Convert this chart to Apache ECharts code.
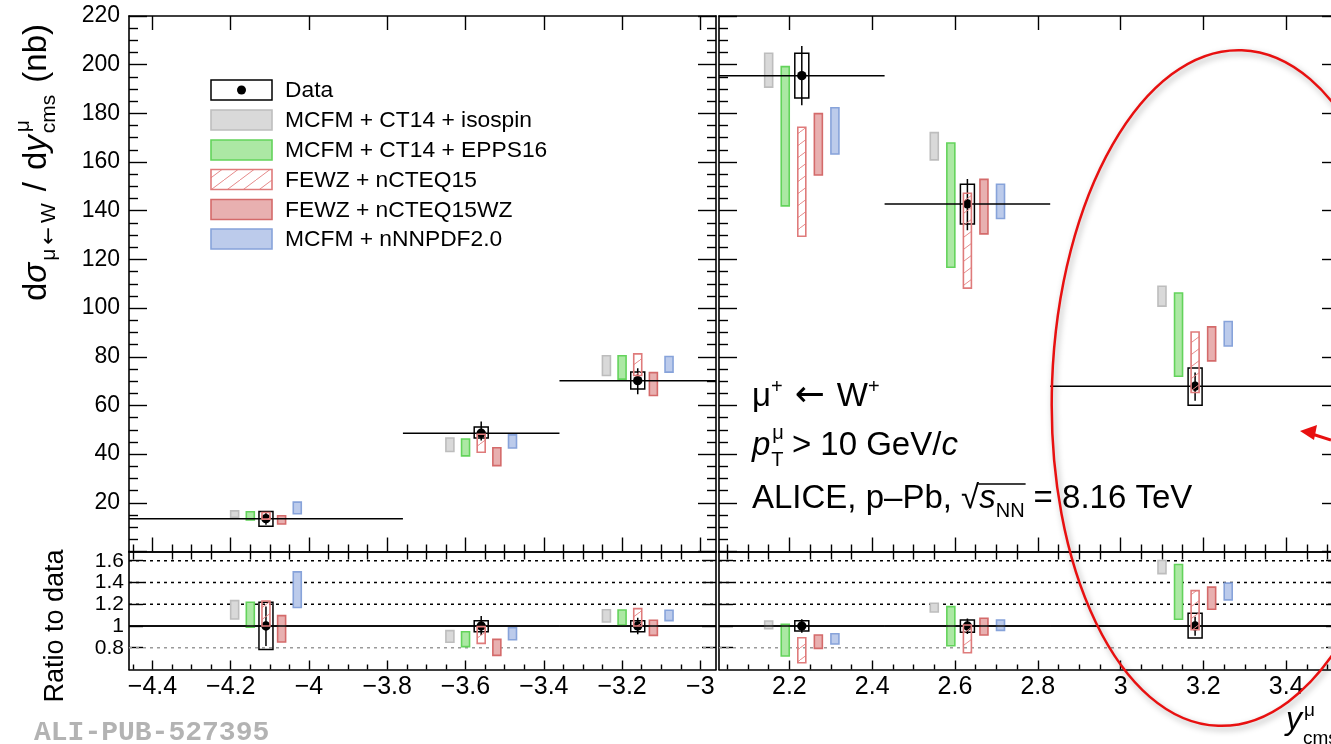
<!DOCTYPE html>
<html><head><meta charset="utf-8">
<script src="https://cdn.jsdelivr.net/npm/echarts@6/dist/echarts.min.js"></script>
<style>html,body{margin:0;padding:0;background:#fff}#c{width:1331px;height:744px}</style>
</head><body><div id="c"></div>
<script>
// ================= DATA =================
const modelNames = ['MCFM + CT14 + isospin','MCFM + CT14 + EPPS16','FEWZ + nCTEQ15','FEWZ + nCTEQ15WZ','MCFM + nNNPDF2.0'];
const modelOffsets = [-0.08,-0.04,0,0.04,0.08];

const xRangeBack = [-4.46,-2.96];
const xRangeFwd = [2.03,3.53];
const binEdgesBack = [-4.46,-3.76,-3.36,-2.96];
const binCentersBack = [-4.11,-3.56,-3.16];
const binEdgesFwd = [2.03,2.43,2.83,3.53];
const binCentersFwd = [2.23,2.63,3.18];

const xTicksBack = [-4.4,-4.2,-4.0,-3.8,-3.6,-3.4,-3.2,-3.0];
const xTicksFwd = [2.2,2.4,2.6,2.8,3.0,3.2,3.4];
const yRangeTop = [0,220];
const yTickStepTop = 20;
const yRangeRatio = [0.6,1.685];
const yTicksRatio = [0.8,1.0,1.2,1.4,1.6];
const ratioRefLines = [0.8,1.2,1.4,1.6];
const ratioUnity = 1;

// cross sections (nb)
const dataBack = [13.5,48.6,70.2];
const statBack = [[11.0,15.9],[45.6,53.4],[64.6,75.3]];
const systBack = [[10.4,16.4],[46.6,51.1],[66.8,73.7]];
const dataFwd = [195.5,142.8,67.9];
const statFwd = [[183.3,207.7],[132.0,153.0],[61.9,73.5]];
const systFwd = [[186.3,204.7],[134.5,150.9],[60.1,75.4]];

const isospinBack  = [[14.1,16.7],[41.1,46.6],[72.3,80.4]];
const epps16Back   = [[13.0,16.3],[39.3,46.2],[70.8,80.4]];
const nCTEQ15Back  = [[13.3,16.0],[40.8,48.2],[72.3,81.2]];
const nCTEQ15WZBack= [[11.3,14.7],[35.3,42.6],[64.1,73.5]];
const nNNPDFBack   = [[15.5,20.3],[42.5,47.9],[73.7,80.1]];

const isospinFwd   = [[190.8,204.7],[160.9,172.1],[100.8,109.0]];
const epps16Fwd    = [[142.0,199.2],[116.8,167.8],[72.0,106.2]];
const nCTEQ15Fwd   = [[129.5,174.3],[108.2,147.2],[65.3,90.2]];
const nCTEQ15WZFwd = [[154.7,179.9],[130.5,152.9],[78.3,92.3]];
const nNNPDFFwd    = [[163.3,182.3],[136.8,150.9],[84.4,94.5]];

// ratios to data
const ratioDataBack = [1,1,1];
const ratioStatBack = [[0.816,1.18],[0.917,1.092],[0.923,1.076]];
const ratioSystBack = [[0.785,1.218],[0.947,1.049],[0.947,1.049]];
const ratioDataFwd = [1,1,1];
const ratioStatFwd = [[0.938,1.062],[0.926,1.07],[0.91,1.086]];
const ratioSystFwd = [[0.954,1.049],[0.942,1.055],[0.889,1.117]];

const rIsospinBack  = [[1.065,1.233],[0.85,0.957],[1.037,1.15]];
const rEpps16Back   = [[0.99,1.218],[0.81,0.947],[1.009,1.147]];
const rNCTEQ15Back  = [[1.0,1.23],[0.84,0.994],[1.0,1.16]];
const rNCTEQ15WZBack= [[0.853,1.095],[0.73,0.877],[0.914,1.053]];
const rNNPDFBack    = [[1.17,1.498],[0.874,0.984],[1.049,1.145]];

const rIsospinFwd   = [[0.975,1.046],[1.129,1.209],[1.482,1.602]];
const rEpps16Fwd    = [[0.724,1.016],[0.818,1.178],[1.062,1.565]];
const rNCTEQ15Fwd   = [[0.662,0.892],[0.754,1.009],[0.965,1.325]];
const rNCTEQ15WZFwd = [[0.794,0.917],[0.917,1.071],[1.154,1.357]];
const rNNPDFFwd     = [[0.834,0.929],[0.96,1.055],[1.24,1.394]];

// ================= STYLE =================
const FONT = "'Liberation Sans', Arial, Helvetica, sans-serif";
const ARROWFONT = "'DejaVu Sans', sans-serif";
function makeHatch(){
  const c = document.createElement('canvas'); c.width = 16; c.height = 12;
  const g = c.getContext('2d');
  g.strokeStyle = '#e58a8a'; g.lineWidth = 1;
  for (const o of [-16,0,16]) { g.beginPath(); g.moveTo(o,12); g.lineTo(o+16,0); g.stroke(); }
  return c;
}
const hatchFill = {image: makeHatch(), repeat: 'repeat'};
const modelStyles = [
  {fill:'#d9d9d9', stroke:'#bdbdbd', lineWidth:1.6},
  {fill:'#ace8a4', stroke:'#63d35b', lineWidth:1.6},
  {fill:hatchFill, stroke:'#df7b7b', lineWidth:1.6},
  {fill:'#e8b0b0', stroke:'#d46a6a', lineWidth:1.6},
  {fill:'#bccbeb', stroke:'#87a3da', lineWidth:1.6}
];
const modelZ = [2,2,5,2,2];

// ================= AXES =================
const grids = [
  {left:129, top:16, width:587, height:535.5},
  {left:719, top:16, width:621, height:535.5},
  {left:129, top:551.5, width:587, height:118},
  {left:719, top:551.5, width:621, height:118}
].map(g => Object.assign(g, {containLabel:false, outerBoundsMode:'none'}));
const xAxes = [], yAxes = [];
const AX = {color:'#000', width:1.6};
const TK = {color:'#000', width:1.4};
function minorsOf(range, step, majorStep){
  const out = [];
  for (let k = Math.ceil(range[0]/step - 1e-9); k*step <= range[1] + 1e-9; k++) {
    const v = Math.round(k*step*1000)/1000;
    if (Math.abs(v/majorStep - Math.round(v/majorStep)) > 1e-6) out.push(v);
  }
  return out;
}
function fmtX(v){ const r = Math.round(v*10)/10; return (r < 0 ? '\u2212' : '') + Math.abs(r); }
function makeX(grid, range, majors, cfg){
  const minors = minorsOf(range, 0.05, 0.2);
  const base = {type:'value', gridIndex:grid, min:range[0], max:range[1], splitLine:{show:false}, axisPointer:{show:false}};
  const idx = xAxes.length;
  xAxes.push(Object.assign({}, base, {position:'bottom',
    axisLine:{show:true, onZero:false, lineStyle:AX},
    axisTick:{show:true, inside:true, length:cfg.bMaj, customValues:majors, lineStyle:TK},
    axisLabel: cfg.labels ? {show:true, customValues:majors, formatter:fmtX, margin:5, fontSize:25, color:'#000', fontFamily:FONT} : {show:false}}));
  xAxes.push(Object.assign({}, base, {position:'bottom',
    axisLine:{show:false}, axisTick:{show:true, inside:true, length:cfg.bMin, customValues:minors, lineStyle:TK}, axisLabel:{show:false}}));
  xAxes.push(Object.assign({}, base, {position:'top',
    axisLine:{show:true, onZero:false, lineStyle:AX},
    axisTick:{show:cfg.tMaj > 0, inside:true, length:cfg.tMaj, customValues:majors, lineStyle:TK}, axisLabel:{show:false}}));
  if (cfg.tMin > 0) xAxes.push(Object.assign({}, base, {position:'top',
    axisLine:{show:false}, axisTick:{show:true, inside:true, length:cfg.tMin, customValues:minors, lineStyle:TK}, axisLabel:{show:false}}));
  return idx;
}
function makeYTop(grid, labels){
  const common = {type:'value', gridIndex:grid, min:yRangeTop[0], max:yRangeTop[1], interval:yTickStepTop, splitLine:{show:false}, axisPointer:{show:false},
    axisLine:{show:true, onZero:false, lineStyle:AX},
    axisTick:{show:true, inside:true, length:18, lineStyle:TK},
    minorTick:{show:true, splitNumber:4, length:9, lineStyle:TK}};
  const idx = yAxes.length;
  yAxes.push(Object.assign({}, common, {position:'left',
    axisLabel: labels ? {show:true, formatter:v => v === 0 ? '' : String(v), margin:9, fontSize:23, color:'#000', fontFamily:FONT} : {show:false}}));
  yAxes.push(Object.assign({}, common, {position:'right', axisLabel:{show:false}}));
  return idx;
}
function makeYRatio(grid, labels){
  const common = {type:'value', gridIndex:grid, min:yRangeRatio[0], max:yRangeRatio[1], splitLine:{show:false}, axisPointer:{show:false},
    axisLine:{show:true, onZero:false, lineStyle:AX},
    axisTick:{show:true, inside:true, length:14, customValues:yTicksRatio, lineStyle:TK}};
  const idx = yAxes.length;
  yAxes.push(Object.assign({}, common, {position:'left',
    axisLabel: labels ? {show:true, customValues:yTicksRatio, formatter:v => String(Math.round(v*10)/10), margin:5, fontSize:21, color:'#000', fontFamily:FONT} : {show:false}}));
  yAxes.push(Object.assign({}, common, {position:'right', axisLabel:{show:false}}));
  return idx;
}

const xTL = makeX(0, xRangeBack, xTicksBack, {labels:false, bMaj:14, bMin:7, tMaj:14, tMin:8});
const xTR = makeX(1, xRangeFwd, xTicksFwd, {labels:false, bMaj:14, bMin:7, tMaj:14, tMin:8});
const xBL = makeX(2, xRangeBack, xTicksBack, {labels:true, bMaj:9, bMin:5, tMaj:0, tMin:0});
const xBR = makeX(3, xRangeFwd, xTicksFwd, {labels:true, bMaj:9, bMin:5, tMaj:0, tMin:0});
const yTL = makeYTop(0, true);
const yTR = makeYTop(1, false);
const yBL = makeYRatio(2, true);
const yBR = makeYRatio(3, false);

// ================= SERIES =================
function bandSeries(xi, yi, centers, off, bands, style, z){
  return {type:'custom', xAxisIndex:xi, yAxisIndex:yi, z:z, silent:true, clip:true,
    data: centers.map((c,i) => [c + off, bands[i][0], bands[i][1]]),
    renderItem: (params, api) => {
      const pt = api.coord([api.value(0), api.value(2)]);
      const pb = api.coord([api.value(0), api.value(1)]);
      const w = 8;
      return {type:'rect', shape:{x:pt[0]-w/2, y:pt[1], width:w, height:pb[1]-pt[1]}, style:Object.assign({}, style)};
    }};
}
function dataSeries(xi, yi, centers, vals, stat, syst, edges){
  return {type:'custom', xAxisIndex:xi, yAxisIndex:yi, z:4, silent:true, clip:true,
    data: centers.map((c,i) => [c, vals[i], stat[i][0], stat[i][1], syst[i][0], syst[i][1], edges[i], edges[i+1]]),
    renderItem: (params, api) => {
      const x = api.value(0), v = api.value(1);
      const pc = api.coord([x, v]);
      const pl = api.coord([api.value(6), v]), pr = api.coord([api.value(7), v]);
      const ps1 = api.coord([x, api.value(3)]), ps0 = api.coord([x, api.value(2)]);
      const py1 = api.coord([x, api.value(5)]), py0 = api.coord([x, api.value(4)]);
      const bw = 14;
      return {type:'group', children:[
        {type:'line', shape:{x1:pl[0], y1:pc[1], x2:pr[0], y2:pc[1]}, style:{stroke:'#000', lineWidth:1.5}},
        {type:'rect', shape:{x:pc[0]-bw/2, y:py1[1], width:bw, height:py0[1]-py1[1]}, style:{fill:'none', stroke:'#000', lineWidth:1.5}},
        {type:'line', shape:{x1:pc[0], y1:ps1[1], x2:pc[0], y2:ps0[1]}, style:{stroke:'#000', lineWidth:1.5}},
        {type:'circle', shape:{cx:pc[0], cy:pc[1], r:4.7}, style:{fill:'#000'}}
      ]};
    }};
}
function refLine(xi, yi, range, v, color, type, width){
  return {type:'line', xAxisIndex:xi, yAxisIndex:yi, z:1, silent:true, symbol:'none', animation:false,
    data:[[range[0], v],[range[1], v]], lineStyle:{color:color, width:width, type:type}};
}

const series = [];
const bandsBack = [isospinBack, epps16Back, nCTEQ15Back, nCTEQ15WZBack, nNNPDFBack];
const bandsFwd = [isospinFwd, epps16Fwd, nCTEQ15Fwd, nCTEQ15WZFwd, nNNPDFFwd];
const rBandsBack = [rIsospinBack, rEpps16Back, rNCTEQ15Back, rNCTEQ15WZBack, rNNPDFBack];
const rBandsFwd = [rIsospinFwd, rEpps16Fwd, rNCTEQ15Fwd, rNCTEQ15WZFwd, rNNPDFFwd];

[[xBL, yBL, xRangeBack],[xBR, yBR, xRangeFwd]].forEach(([xi, yi, rg]) => {
  ratioRefLines.forEach(v => series.push(refLine(xi, yi, rg, v, v < 1 ? '#9a9a9a' : '#000', [3,4], 1.3)));
  series.push(refLine(xi, yi, rg, ratioUnity, '#000', 'solid', 1.6));
});
for (let m = 0; m < 5; m++) {
  series.push(bandSeries(xTL, yTL, binCentersBack, modelOffsets[m], bandsBack[m], modelStyles[m], modelZ[m]));
  series.push(bandSeries(xTR, yTR, binCentersFwd, modelOffsets[m], bandsFwd[m], modelStyles[m], modelZ[m]));
  series.push(bandSeries(xBL, yBL, binCentersBack, modelOffsets[m], rBandsBack[m], modelStyles[m], modelZ[m]));
  series.push(bandSeries(xBR, yBR, binCentersFwd, modelOffsets[m], rBandsFwd[m], modelStyles[m], modelZ[m]));
}
series.push(dataSeries(xTL, yTL, binCentersBack, dataBack, statBack, systBack, binEdgesBack));
series.push(dataSeries(xTR, yTR, binCentersFwd, dataFwd, statFwd, systFwd, binEdgesFwd));
series.push(dataSeries(xBL, yBL, binCentersBack, ratioDataBack, ratioStatBack, ratioSystBack, binEdgesBack));
series.push(dataSeries(xBR, yBR, binCentersFwd, ratioDataFwd, ratioStatFwd, ratioSystFwd, binEdgesFwd));

// ================= TEXT / GRAPHIC =================
const mctx = document.createElement('canvas').getContext('2d');
function fontStr(p){ return (p.it ? 'italic ' : '') + p.s + 'px ' + (p.f || FONT); }
function mathRun(pieces){
  let x = 0, pend = 0; const kids = [];
  for (const p of pieces) {
    const f = fontStr(p);
    mctx.font = f;
    const w = mctx.measureText(p.t).width;
    const px = x + (p.dx || 0);
    p._x = px; p._w = w;
    kids.push({type:'text', x:px, y:(p.dy || 0) - 0.35*p.s,
      style:{text:p.t, font:f, fill:'#000', align:'left', verticalAlign:'middle', textAlign:'left', textVerticalAlign:'middle'}});
    if (p.adv === false) pend = Math.max(pend, w + (p.dx || 0));
    else { x += Math.max(w + (p.dx || 0), pend) + (p.gap || 0); pend = 0; }
  }
  return {kids, width:x};
}
const graphic = [];

// y-axis titles
const yTitlePieces = [
  {t:'d', s:33}, {t:'\u03c3', s:33, it:true, gap:2},
  {t:'\u03bc', s:21, dy:9, gap:4}, {t:'\u2190', s:21, dy:9, f:ARROWFONT, gap:4}, {t:'W', s:21, dy:9, gap:12},
  {t:'/', s:33, gap:12},
  {t:'d', s:33}, {t:'y', s:33, it:true, gap:2},
  {t:'\u03bc', s:21, dy:-17, adv:false, dx:1},
  {t:'cms', s:21, dy:9, gap:12},
  {t:'(nb)', s:33}
];
const yT = mathRun(yTitlePieces);
graphic.push({type:'group', x:48, y:301, rotation:Math.PI/2, children:yT.kids});
graphic.push({type:'text', x:56, y:626, rotation:Math.PI/2,
  style:{text:'Ratio to data', font:'27px ' + FONT, fill:'#000', align:'center', verticalAlign:'middle', textAlign:'center', textVerticalAlign:'middle'}});

// x-axis title
const xT = mathRun([{t:'y', s:32, it:true, gap:1}, {t:'\u03bc', s:19, dy:-14, adv:false, dx:1}, {t:'cms', s:19, dy:14}]);
graphic.push({type:'group', x:1286, y:731, children:xT.kids});

// watermark
graphic.push({type:'text', x:34, y:733,
  style:{text:'ALI-PUB-527395', font:"bold 28px 'Liberation Mono', 'DejaVu Sans Mono', monospace", fill:'#b3b3b3', align:'left', verticalAlign:'middle', textAlign:'left', textVerticalAlign:'middle'}});

// legend
const legendRows = [90,120,150,179.5,209.5,239];
graphic.push({type:'rect', shape:{x:211, y:legendRows[0]-10, width:61, height:20}, style:{fill:'#fff', stroke:'#000', lineWidth:1.5}});
graphic.push({type:'circle', shape:{cx:241.5, cy:legendRows[0], r:4.5}, style:{fill:'#000'}});
graphic.push({type:'text', x:285, y:legendRows[0]+1, style:{text:'Data', font:'22.8px ' + FONT, fill:'#000', align:'left', verticalAlign:'middle', textAlign:'left', textVerticalAlign:'middle'}});
modelNames.forEach((n, i) => {
  const cy = legendRows[i+1];
  graphic.push({type:'rect', shape:{x:211, y:cy-10, width:61, height:20}, style:Object.assign({}, modelStyles[i])});
  graphic.push({type:'text', x:285, y:cy+1, style:{text:n, font:'22.8px ' + FONT, fill:'#000', align:'left', verticalAlign:'middle', textAlign:'left', textVerticalAlign:'middle'}});
});

// annotation lines
const l1 = mathRun([{t:'\u03bc', s:33}, {t:'+', s:20, dy:-14, gap:12}, {t:'\u2190', s:36, f:ARROWFONT, dy:1, gap:12}, {t:'W', s:33}, {t:'+', s:20, dy:-14}]);
graphic.push({type:'group', x:752, y:408, children:l1.kids});
const l2 = mathRun([{t:'p', s:33, it:true}, {t:'\u03bc', s:20, dy:-17, adv:false, dx:2}, {t:'T', s:20, dy:10, dx:1, gap:8}, {t:'> 10 GeV/', s:33}, {t:'c', s:33, it:true}]);
graphic.push({type:'group', x:752, y:457, children:l2.kids});
const l3p = [{t:'ALICE, p\u2013Pb, ', s:33}, {t:'\u221a', s:33}, {t:'s', s:33, it:true}, {t:'NN', s:20, dy:8, gap:9}, {t:'= 8.16 TeV', s:33}];
const l3 = mathRun(l3p);
l3.kids.push({type:'line', shape:{x1:l3p[2]._x - 1, y1:-26, x2:l3p[3]._x + l3p[3]._w + 1, y2:-26}, style:{stroke:'#000', lineWidth:1.3}});
graphic.push({type:'group', x:752, y:510, children:l3.kids});

// red ellipse annotation & arrow
graphic.push({type:'ellipse', x:1230, y:388, rotation:-0.035, shape:{cx:0, cy:0, rx:178, ry:338}, z:100,
  style:{fill:'none', stroke:'#e81010', lineWidth:2.5, shadowBlur:6, shadowOffsetX:2, shadowOffsetY:3, shadowColor:'rgba(0,0,0,0.35)'}});
graphic.push({type:'line', shape:{x1:1331, y1:440, x2:1312, y2:434}, z:100, style:{stroke:'#e81010', lineWidth:3}});
graphic.push({type:'polygon', shape:{points:[[1300,431],[1317,425],[1314,440]]}, z:100, style:{fill:'#e81010'}});

const chart = echarts.init(document.getElementById('c'));
chart.setOption({
  animation:false,
  backgroundColor:'#fff',
  grid:grids,
  xAxis:xAxes,
  yAxis:yAxes,
  series:series,
  graphic:graphic
});
</script></body></html>
